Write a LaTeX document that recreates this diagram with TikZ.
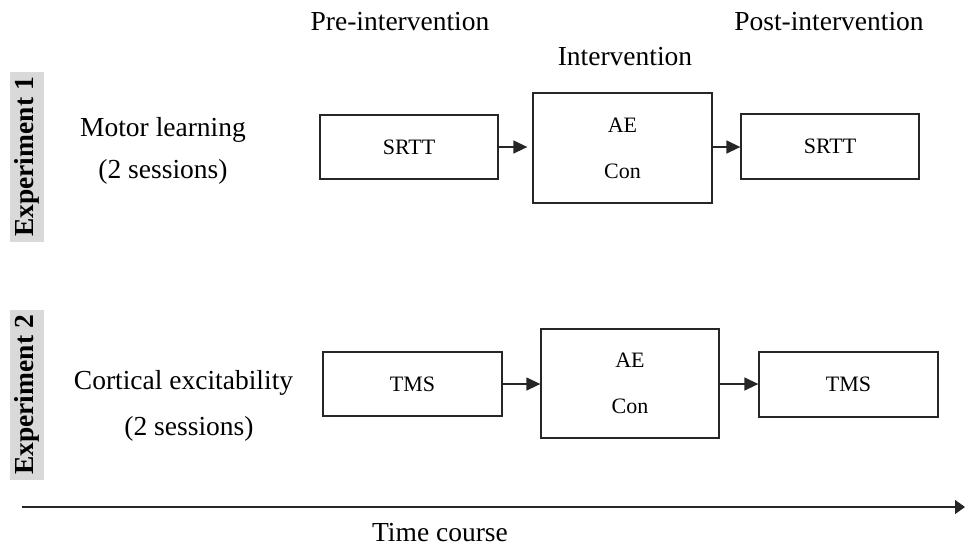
\documentclass[tikz,border=0pt]{standalone}
\usepackage{fontspec}
\setmainfont{Liberation Serif}
\usetikzlibrary{arrows.meta}
\definecolor{labelgray}{RGB}{217,217,217}
\tikzset{
  lbl/.style={font=\fontsize{27.5}{33}\selectfont, inner sep=0pt},
  stagebox/.style={draw=black!85, line width=1.3pt, fill=white, font=\fontsize{22}{46}\selectfont, align=center, inner sep=0pt},
  explbl/.style={fill=labelgray, rotate=90, font=\fontsize{27.5}{33}\selectfont\bfseries, inner xsep=5pt, inner ysep=4.5pt},
  arr/.style={line width=1.4pt, draw=black!85, -{Triangle[length=14pt,width=13pt]}},
}
\begin{document}
\begin{tikzpicture}[x=1pt,y=-1pt]
\useasboundingbox (0,0) rectangle (965,547);
% headers
\node[lbl] (pre) at (400,22) {Pre-intervention};
\node[lbl] (int) at (625,57) {Intervention};
\node[lbl] (post) at (829,22) {Post-intervention};
% experiment labels
\node[explbl] (e1) at (27,157) {Experiment 1};
\node[explbl] (e2) at (27,395) {Experiment 2};
% row 1
\node[lbl] (ml) at (163,130) {Motor learning};
\node[lbl] (s1) at (163,172) {(2 sessions)};
\node[stagebox, minimum width=178pt, minimum height=64pt] (srtt1) at (409,147) {SRTT};
\node[stagebox, minimum width=179pt, minimum height=110pt] (ae1) at (622.5,148) {AE\\Con};
\node[stagebox, minimum width=178pt, minimum height=65pt] (srtt2) at (830,146.5) {SRTT};
\draw[arr, shorten >=5pt] (srtt1.east) -- (srtt1.east -| ae1.west);
\draw[arr] (ae1.east |- srtt1.east) -- (srtt2.west |- srtt1.east);
% row 2
\node[lbl] (ce) at (183.5,383) {Cortical excitability};
\node[lbl] (s2) at (189,429) {(2 sessions)};
\node[stagebox, minimum width=179pt, minimum height=64pt] (tms1) at (412.5,384) {TMS};
\node[stagebox, minimum width=178pt, minimum height=109pt] (ae2) at (630,383.5) {AE\\Con};
\node[stagebox, minimum width=179pt, minimum height=65pt] (tms2) at (848.5,384.5) {TMS};
\draw[arr] (tms1.east) -- (tms1.east -| ae2.west);
\draw[arr] (ae2.east |- tms1.east) -- (tms2.west |- tms1.east);
% time axis
\coordinate (t0) at (22,507);
\coordinate (t1) at (965,507);
\draw[line width=1.4pt, draw=black!85, -{Triangle[length=10pt,width=14pt]}] (t0) -- (t1);
\node[lbl] (tc) at (440,533) {Time course};
\end{tikzpicture}
\end{document}
